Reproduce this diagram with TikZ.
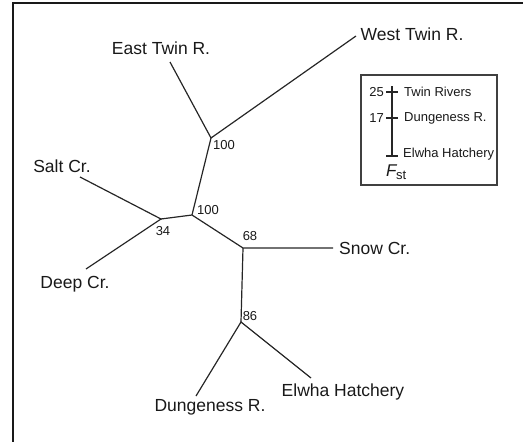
\documentclass[tikz,border=0pt]{standalone}
\usepackage{fontspec}
\setmainfont{Liberation Sans}
\begin{document}
\begin{tikzpicture}[x=1pt,y=-1pt,
  branch/.style={draw=black!85,line width=1.2pt},
  taxon/.style={font=\fontsize{17.5}{19}\selectfont,inner sep=0pt,text=black!90},
  boot/.style={font=\fontsize{13}{14}\selectfont,inner sep=0pt,text=black!90},
  leg/.style={font=\fontsize{13}{14}\selectfont,inner sep=0pt,text=black!90},
  frame/.style={draw=black!90,line width=2pt}]
\useasboundingbox (0,0) rectangle (523,442);
% outer frame (left and top)
\draw[frame] (13,442) -- (13,3) -- (523,3);
% internal nodes
\coordinate (A) at (211,138);
\coordinate (B) at (192,215);
\coordinate (C) at (161,219);
\coordinate (D) at (243,248);
\coordinate (E) at (241,322);
% tips
\coordinate (et) at (170,62);
\coordinate (wt) at (356,36);
\coordinate (sa) at (80,177);
\coordinate (de) at (86,269);
\coordinate (sn) at (333,248);
\coordinate (du) at (196,396);
\coordinate (el) at (311,378);
\draw[branch] (et) -- (A) -- (wt);
\draw[branch] (A) -- (B) -- (C);
\draw[branch] (sa) -- (C) -- (de);
\draw[branch] (B) -- (D) -- (sn);
\draw[branch] (D) -- (E);
\draw[branch] (du) -- (E) -- (el);
% tip labels
\node[taxon] (let) at (161,48) {East Twin R.};
\node[taxon] (lwt) at (412,34) {West Twin R.};
\node[taxon] (lsa) at (62,166) {Salt Cr.};
\node[taxon] (lde) at (75,284) {Deep Cr.};
\node[taxon,anchor=west] (lsn) at (339,248) {Snow Cr.};
\node[taxon] (ldu) at (210,407) {Dungeness R.};
\node[taxon] (lel) at (343,392) {Elwha Hatchery};
% bootstrap values
\node[boot] (b1) at (224,145) {100};
\node[boot] (b2) at (208,210) {100};
\node[boot] (b3) at (163,231) {34};
\node[boot] (b4) at (250,236) {68};
\node[boot] (b5) at (250,316) {86};
% legend
\node[draw=black!75,line width=1.2pt,minimum width=136pt,minimum height=110pt,inner sep=0pt] (box) at (429,130) {};
\coordinate (s0) at (392,86);
\coordinate (s1) at (392,156);
\draw[branch] (s0) -- (s1);
\draw[branch] (386,92) -- (398,92);
\draw[branch] (386,118) -- (398,118);
\draw[branch] (386,156) -- (398,156);
\node[leg,anchor=east] (n25) at (384,92) {25};
\node[leg,anchor=east] (n17) at (384,118) {17};
\node[leg,anchor=west] (t1) at (404,92) {Twin Rivers};
\node[leg,anchor=west] (t2) at (404,118) {Dungeness R.};
\node[leg,anchor=west] (t3) at (403,154) {Elwha Hatchery};
\node[inner sep=0pt,anchor=base west,text=black!90] (fst) at (386,176) {\fontsize{17}{19}\selectfont\itshape F\kern-0.5pt\raisebox{-3pt}{\upshape\fontsize{13}{14}\selectfont st}};
\end{tikzpicture}
\end{document}
